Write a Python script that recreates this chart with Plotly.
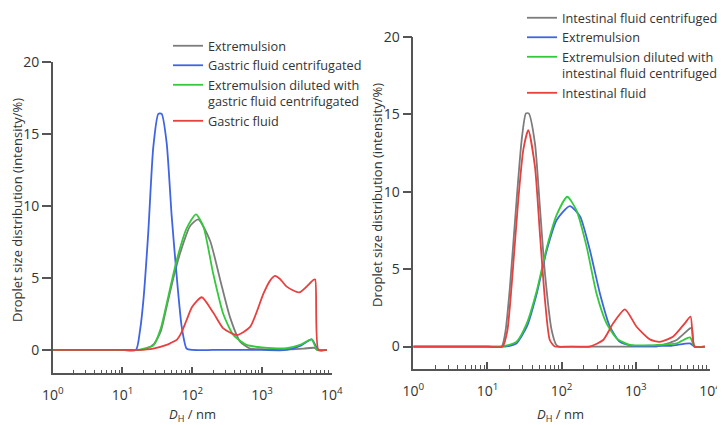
import plotly.graph_objects as go

# ---------------- data (diameter in nm, intensity in %) ----------------
# Left panel (gastric)
L_extremulsion_d = [1, 10, 16.6, 22.4, 28.2, 35.5, 43, 53.7, 66.8, 92.9, 122, 180, 251, 347, 484, 676, 1000, 1600, 2512, 3981, 5623, 6310, 8511]
L_extremulsion_v = [0, 0, 0, 0.1, 0.4, 1.3, 3.0, 5.0, 6.7, 8.6, 9.07, 7.6, 4.9, 2.3, 0.6, 0.1, 0.05, 0.05, 0.05, 0.1, 0.15, 0, 0]

L_gastric_cent_d = [1, 10, 15.6, 17.9, 20, 23.4, 27.7, 32.7, 36.5, 43, 50.8, 60, 70.8, 83.2, 100, 200, 500, 1000, 2265, 3600, 5160, 6460, 8511]
L_gastric_cent_v = [0, 0, 0, 1.4, 3.5, 8.1, 14.1, 16.4, 16.4, 14.4, 9.3, 5.1, 1.6, 0.1, 0, 0, 0, 0, 0, 0.3, 0.74, 0, 0]

L_diluted_d = [1, 10, 16.6, 22.4, 27.7, 35.5, 43, 60, 83.2, 113, 145, 200, 279, 389, 603, 1000, 2265, 3508, 5160, 6170, 8511]
L_diluted_v = [0, 0, 0, 0.15, 0.3, 1.5, 3.2, 6.25, 8.45, 9.42, 8.56, 5.3, 2.5, 1.04, 0.35, 0.18, 0.12, 0.35, 0.74, 0, 0]

L_gastric_d = [1, 10, 17, 27.7, 43, 50, 60, 70, 83.2, 100, 137, 200, 279, 437, 676, 1047, 1300, 1538, 1800, 2265, 3436, 5445, 5800, 6460, 8511]
L_gastric_v = [0, 0, 0, 0.1, 0.35, 0.5, 0.7, 1.2, 2.08, 3.0, 3.66, 2.6, 1.5, 1.04, 1.6, 3.9, 4.8, 5.14, 4.95, 4.4, 4.0, 4.86, 4.9, 0, 0]

# Right panel (intestinal)
R_int_cent_d = [1, 10, 15.5, 17.5, 20.1, 24.7, 28.9, 33, 36, 43.7, 50.9, 59.6, 73.3, 85, 93, 200, 500, 1000, 1905, 2500, 3548, 5370, 5700, 6170, 8511]
R_int_cent_v = [0, 0, 0, 1.0, 3.86, 9.46, 13.33, 15.05, 15.05, 13.1, 9.0, 4.7, 1.06, 0.1, 0, 0, 0, 0, 0, 0.15, 0.42, 1.17, 1.2, 0, 0]

R_extremulsion_d = [1, 10, 15.5, 20, 24.5, 33.9, 46.2, 63.1, 85.7, 129, 177, 240, 328, 447, 610, 912, 1500, 3000, 5370, 6170, 8511]
R_extremulsion_v = [0, 0, 0, 0.05, 0.2, 1.28, 3.43, 6.23, 8.17, 9.07, 8.4, 6.23, 3.43, 1.28, 0.3, 0.05, 0.05, 0.05, 0.2, 0, 0]

R_diluted_d = [1, 10, 15.5, 24.5, 33.9, 46.2, 63.1, 85.7, 119, 158, 217, 295, 403, 550, 832, 1905, 3548, 5370, 6170, 8511]
R_diluted_v = [0, 0, 0, 0.3, 1.5, 3.6, 6.4, 8.5, 9.67, 8.8, 6.45, 3.43, 1.5, 0.53, 0.1, 0.1, 0.2, 0.59, 0, 0]

R_int_d = [1, 10, 16, 18.5, 21.1, 26, 30.4, 35.5, 43.7, 50.9, 59.6, 69.2, 81, 120, 240, 363, 495, 713, 1023, 1549, 2089, 3162, 4571, 5470, 6170, 8511]
R_int_v = [0, 0, 0, 1.0, 3.86, 9.46, 12.7, 13.97, 11.6, 7.3, 3.0, 0.42, 0, 0, 0, 0.42, 1.5, 2.4, 1.28, 0.46, 0.3, 0.63, 1.5, 1.93, 0, 0]

x_tickvals = [1, 10, 100, 1000, 10000]
x_ticktext = ["10<sup>0</sup>", "10<sup>1</sup>", "10<sup>2</sup>", "10<sup>3</sup>", "10<sup>4</sup>"]
y_tickvals = [0, 5, 10, 15, 20]

GRAY = "#7c7c7c"
BLUE = "#3f64e4"
GREEN = "#33c93a"
RED = "#e6403f"
FONT = "Open Sans"
TXT = "#333333"
AX = "#555555"

fig = go.Figure()

def add(x, y, name, color, xa, ya, legend):
    fig.add_trace(go.Scatter(x=x, y=y, name=name, mode="lines",
                             line=dict(color=color, width=1.8, shape="spline", smoothing=0.6),
                             xaxis=xa, yaxis=ya, legend=legend))

add(L_extremulsion_d, L_extremulsion_v, "Extremulsion", GRAY, "x", "y", "legend")
add(L_gastric_cent_d, L_gastric_cent_v, "Gastric fluid centrifugated", BLUE, "x", "y", "legend")
add(L_diluted_d, L_diluted_v, "Extremulsion diluted with<br>gastric fluid centrifugated", GREEN, "x", "y", "legend")
add(L_gastric_d, L_gastric_v, "Gastric fluid", RED, "x", "y", "legend")

add(R_int_cent_d, R_int_cent_v, "Intestinal fluid centrifuged", GRAY, "x2", "y2", "legend2")
add(R_extremulsion_d, R_extremulsion_v, "Extremulsion", BLUE, "x2", "y2", "legend2")
add(R_diluted_d, R_diluted_v, "Extremulsion diluted with<br>intestinal fluid centrifuged", GREEN, "x2", "y2", "legend2")
add(R_int_d, R_int_v, "Intestinal fluid", RED, "x2", "y2", "legend2")

# the page body adds an 8 px offset, so the figure is laid out in page px - 8
OFF = 8
W, H = 725 - OFF, 425 - OFF

def px_x(p):
    return (p - OFF) / W

def px_y(p):
    return 1 - (p - OFF) / H

def xaxis_cfg(x0, x1, anchor):
    minor_vals = [m * 10 ** e for e in range(4) for m in range(2, 10)]
    return dict(type="log", range=[0, 4], domain=[px_x(x0), px_x(x1)], anchor=anchor,
                tickvals=x_tickvals, ticktext=x_ticktext, ticks="inside", ticklen=7,
                tickwidth=1.5, tickcolor=AX, showline=True, linecolor=AX, linewidth=1.5,
                showgrid=False, zeroline=False, tickfont=dict(family=FONT, size=14, color=TXT),
                ticklabelstandoff=8, automargin=False,
                minor=dict(tickvals=minor_vals, ticks="inside", ticklen=4, tickwidth=1.2,
                           tickcolor=AX, showgrid=False),
                fixedrange=True)

def yaxis_cfg(ytop_px, ybot_px, ymin, anchor):
    return dict(range=[ymin, 20], domain=[px_y(ybot_px), px_y(ytop_px)], anchor=anchor,
                tickvals=y_tickvals, ticks="outside", ticklen=9, tickwidth=1.5, tickcolor=AX,
                showline=True, linecolor=AX, linewidth=1.5, showgrid=False, zeroline=False,
                automargin=False,
                tickfont=dict(family=FONT, size=14, color=TXT), fixedrange=True)

legend_common = dict(bgcolor="rgba(0,0,0,0)", xanchor="left", yanchor="top",
                     font=dict(family=FONT, size=12.7, color=TXT), valign="top",
                     traceorder="normal", itemwidth=30)

ann_font = dict(family=FONT, size=13, color=TXT)

fig.update_layout(
    width=W, height=H,
    margin=dict(l=0, r=0, t=0, b=0, autoexpand=False),
    paper_bgcolor="white", plot_bgcolor="white",
    showlegend=True,
    xaxis=xaxis_cfg(52.7, 331.7, "y"),
    yaxis=yaxis_cfg(62, 373.3, -1.62, "x"),
    xaxis2=xaxis_cfg(413.3, 710, "y2"),
    yaxis2=yaxis_cfg(36.7, 369, -1.45, "x2"),
    legend=dict(x=px_x(168), y=px_y(31), **legend_common),
    legend2=dict(x=px_x(522), y=px_y(3), **legend_common),
    annotations=[
        dict(text="Droplet size distribution (intensity/%)", textangle=-90, x=px_x(17), y=px_y(210),
             xanchor="center", yanchor="middle",
             xref="paper", yref="paper", showarrow=False, font=ann_font),
        dict(text="Droplet size distribution (intensity/%)", textangle=-90, x=px_x(377), y=px_y(195),
             xanchor="center", yanchor="middle",
             xref="paper", yref="paper", showarrow=False, font=ann_font),
        dict(text="<i>D</i><sub>H</sub> / nm", x=px_x(192), y=px_y(415), xanchor="center", yanchor="middle",
             xref="paper", yref="paper", showarrow=False, font=dict(family=FONT, size=13, color=TXT)),
        dict(text="<i>D</i><sub>H</sub> / nm", x=px_x(560), y=px_y(415), xanchor="center", yanchor="middle",
             xref="paper", yref="paper", showarrow=False, font=dict(family=FONT, size=13, color=TXT)),
    ],
)

fig.write_html("out.html")
